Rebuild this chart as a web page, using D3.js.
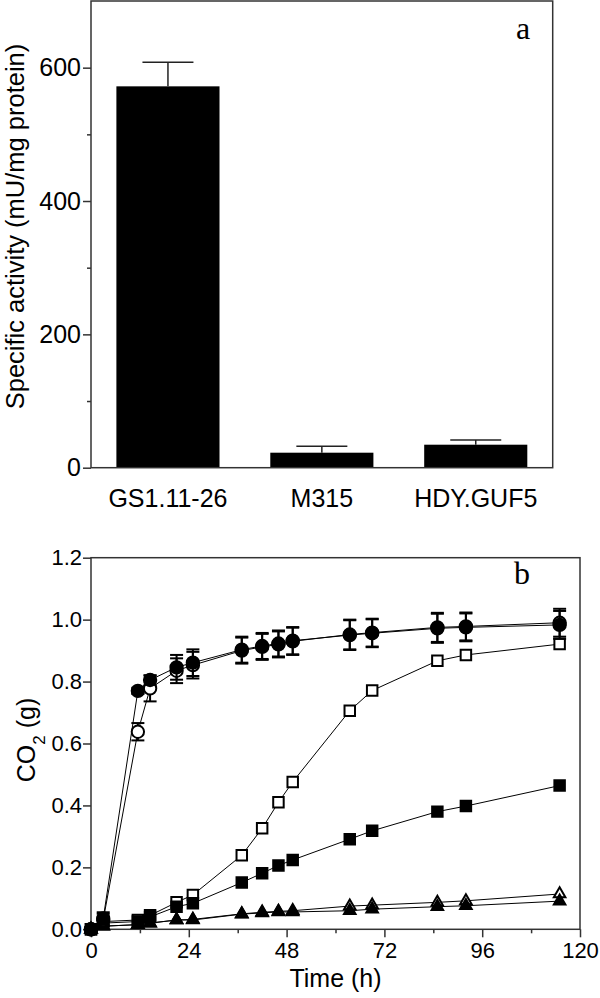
<!DOCTYPE html>
<html><head><meta charset="utf-8">
<script src="https://cdn.jsdelivr.net/npm/d3@7"></script>
<style>body{margin:0;background:#fff}svg{display:block}</style>
</head><body>
<svg id="chart" width="600" height="998"></svg>
<script>
// ---------- Panel a data ----------
const strains = ["GS1.11-26", "M315", "HDY.GUF5"];
const activity = [572, 22.5, 34.5];
const activityErr = [36, 9.5, 7];
const activityTicks = [0, 200, 400, 600];
const activityMinor = [100, 300, 500];

// ---------- Panel b data ----------
const times = [0, 3, 11.5, 14.5, 21, 25, 37, 42, 46, 49.5, 63.5, 69, 85, 92, 115];
const openTriangle = [0, 0.01, 0.015, 0.02, 0.03, 0.032, 0.05, 0.055, 0.058, 0.06, 0.075, 0.078, 0.087, 0.092, 0.114];
const filledTriangle = [0, 0.01, 0.015, 0.02, 0.03, 0.03, 0.049, 0.053, 0.056, 0.056, 0.06, 0.065, 0.073, 0.076, 0.091];
const openSquare = [0, 0.025, 0.03, 0.045, 0.087, 0.111, 0.239, 0.326, 0.41, 0.476, 0.706, 0.771, 0.867, 0.886, 0.921];
const filledSquare = [0, 0.02, 0.025, 0.04, 0.073, 0.084, 0.151, 0.181, 0.206, 0.224, 0.291, 0.318, 0.38, 0.398, 0.464];
const openCircle = [0, 0.03, 0.638, 0.778, 0.835, 0.853, 0.9, 0.912, 0.92, 0.93, 0.952, 0.958, 0.975, 0.978, 0.99];
const openCircleErr = [0, 0.02, 0.028, 0.042, 0.04, 0.043, 0.042, 0.042, 0.042, 0.044, 0.048, 0.045, 0.047, 0.045, 0.045];
const filledCircle = [0, 0.035, 0.77, 0.805, 0.846, 0.861, 0.903, 0.915, 0.923, 0.932, 0.950, 0.956, 0.972, 0.975, 0.983];
const filledCircleErr = [0, 0.02, 0.01, 0.015, 0.04, 0.043, 0.042, 0.042, 0.042, 0.044, 0.048, 0.045, 0.047, 0.045, 0.045];
const timeTicks = [0, 24, 48, 72, 96, 120];
const timeMinor = [12, 36, 60, 84, 108];
const co2Ticks = [0, 0.2, 0.4, 0.6, 0.8, 1.0, 1.2];

const FONT = "Arial, 'Liberation Sans', sans-serif";
const AXC = "#333";
const svg = d3.select("#chart");

// ================= Panel a =================
const aL = 91, aR = 552.7, aT = 1, aB = 467.7;
const xa = d3.scaleBand(strains, [aL, aR]).paddingInner(0.33).paddingOuter(0.165);
const ya = d3.scaleLinear([0, 700], [aB, aT]);
const ga = svg.append("g");

// bars
ga.selectAll("rect.bar").data(strains).join("rect")
  .attr("x", d => xa(d)).attr("width", xa.bandwidth())
  .attr("y", (d, i) => ya(activity[i])).attr("height", (d, i) => aB - ya(activity[i]))
  .attr("fill", "#000");
// error bars (upper)
strains.forEach((d, i) => {
  const cx = xa(d) + xa.bandwidth() / 2;
  const top = ya(activity[i] + activityErr[i]);
  ga.append("line").attr("x1", cx).attr("x2", cx).attr("y1", ya(activity[i])).attr("y2", top)
    .attr("stroke", "#222").attr("stroke-width", 1.5);
  ga.append("line").attr("x1", cx - 25.5).attr("x2", cx + 25.5).attr("y1", top).attr("y2", top)
    .attr("stroke", "#222").attr("stroke-width", 1.5);
});

// frame
ga.append("rect").attr("x", aL).attr("y", aT).attr("width", aR - aL).attr("height", aB - aT)
  .attr("fill", "none").attr("stroke", AXC).attr("stroke-width", 1.5);

// y axis
const yAxA = ga.append("g").attr("transform", `translate(${aL},0)`)
  .call(d3.axisLeft(ya).tickValues(activityTicks).tickSize(8).tickPadding(2));
yAxA.select(".domain").remove();
yAxA.selectAll("line").attr("stroke", AXC).attr("stroke-width", 1.5);
yAxA.selectAll("text").attr("font-family", FONT).attr("font-size", 25).attr("fill", "#000");
const yAxAm = ga.append("g").attr("transform", `translate(${aL},0)`)
  .call(d3.axisLeft(ya).tickValues(activityMinor).tickSize(4).tickFormat(""));
yAxAm.select(".domain").remove();
yAxAm.selectAll("line").attr("stroke", AXC).attr("stroke-width", 1.5);

// x axis (category labels)
const xAxA = ga.append("g").attr("transform", `translate(0,${aB})`)
  .call(d3.axisBottom(xa).tickSize(0).tickPadding(21.5));
xAxA.select(".domain").remove();
xAxA.selectAll("text").attr("font-family", FONT).attr("font-size", 25).attr("fill", "#000");

ga.append("text").attr("transform", `translate(23.5,226.5) rotate(-90)`)
  .attr("text-anchor", "middle").attr("font-family", FONT).attr("font-size", 25.5)
  .text("Specific activity (mU/mg protein)");
ga.append("text").attr("x", 523).attr("y", 38.5).attr("text-anchor", "middle")
  .attr("font-family", "'Liberation Serif', 'Times New Roman', serif").attr("font-size", 32).text("a");

// ================= Panel b =================
const bL = 91, bR = 580, bT = 557.7, bB = 929.3;
const xb = d3.scaleLinear([0, 120], [bL, bR]);
const yb = d3.scaleLinear([0, 1.2], [bB, bT]);
const gb = svg.append("g");

gb.append("rect").attr("x", bL).attr("y", bT).attr("width", bR - bL).attr("height", bB - bT)
  .attr("fill", "none").attr("stroke", AXC).attr("stroke-width", 1.5);

const xAxB = gb.append("g").attr("transform", `translate(0,${bB})`)
  .call(d3.axisBottom(xb).tickValues(timeTicks).tickSize(8).tickPadding(5));
xAxB.select(".domain").remove();
xAxB.selectAll("line").attr("stroke", AXC).attr("stroke-width", 1.5);
xAxB.selectAll("text").attr("font-family", FONT).attr("font-size", 22).attr("fill", "#000");
const xAxBm = gb.append("g").attr("transform", `translate(0,${bB})`)
  .call(d3.axisBottom(xb).tickValues(timeMinor).tickSize(4).tickFormat(""));
xAxBm.select(".domain").remove();
xAxBm.selectAll("line").attr("stroke", AXC).attr("stroke-width", 1.5);

const yAxB = gb.append("g").attr("transform", `translate(${bL},0)`)
  .call(d3.axisLeft(yb).tickValues(co2Ticks).tickSize(8).tickPadding(1).tickFormat(d3.format(".1f")));
yAxB.select(".domain").remove();
yAxB.selectAll("line").attr("stroke", AXC).attr("stroke-width", 1.5);
yAxB.selectAll("text").attr("font-family", FONT).attr("font-size", 22).attr("fill", "#000");

const series = [
  { v: openTriangle, shape: d3.symbolTriangle, size: 58, fill: "#fff" },
  { v: filledTriangle, shape: d3.symbolTriangle, size: 58, fill: "#000" },
  { v: openSquare, shape: d3.symbolSquare, size: 110, fill: "#fff" },
  { v: filledSquare, shape: d3.symbolSquare, size: 110, fill: "#000" },
  { v: openCircle, e: openCircleErr, shape: d3.symbolCircle, size: 120, fill: "#fff" },
  { v: filledCircle, e: filledCircleErr, shape: d3.symbolCircle, size: 120, fill: "#000" }
];
const line = d3.line().x(d => xb(d[0])).y(d => yb(d[1]));

series.forEach(s => {
  const pts = times.map((t, i) => [t, s.v[i]]);
  gb.append("path").attr("d", line(pts)).attr("fill", "none").attr("stroke", "#000").attr("stroke-width", 1);
  if (s.e) {
    times.forEach((t, i) => {
      if (!s.e[i]) return;
      const cx = xb(t), y1 = yb(s.v[i] - s.e[i]), y2 = yb(s.v[i] + s.e[i]);
      gb.append("line").attr("x1", cx).attr("x2", cx).attr("y1", y1).attr("y2", y2)
        .attr("stroke", "#000").attr("stroke-width", 2);
      [y1, y2].forEach(y => gb.append("line").attr("x1", cx - 6.5).attr("x2", cx + 6.5)
        .attr("y1", y).attr("y2", y).attr("stroke", "#000").attr("stroke-width", 2));
    });
  }
  gb.selectAll(null).data(pts).join("path")
    .attr("transform", d => `translate(${xb(d[0])},${yb(d[1])})`)
    .attr("d", d3.symbol(s.shape, s.size))
    .attr("fill", s.fill).attr("stroke", "#000").attr("stroke-width", 2);
});

gb.append("text").attr("x", (bL + bR) / 2).attr("y", 987).attr("text-anchor", "middle")
  .attr("font-family", FONT).attr("font-size", 25).text("Time (h)");
const yl = gb.append("text").attr("transform", `translate(35,740) rotate(-90)`)
  .attr("text-anchor", "middle").attr("font-family", FONT).attr("font-size", 25);
yl.append("tspan").text("CO");
yl.append("tspan").attr("font-size", 17).attr("baseline-shift", "sub").text("2");
yl.append("tspan").text(" (g)");
gb.append("text").attr("x", 522).attr("y", 584).attr("text-anchor", "middle")
  .attr("font-family", "'Liberation Serif', 'Times New Roman', serif").attr("font-size", 32).text("b");
</script>
</body></html>
